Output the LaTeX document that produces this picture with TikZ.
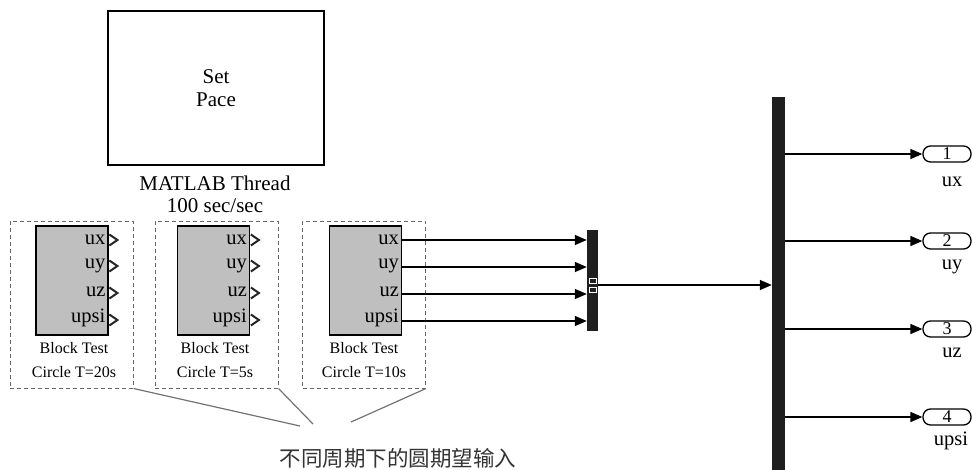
\documentclass[tikz,border=0pt]{standalone}
\usepackage{fontspec}
\setmainfont{Liberation Serif}
\newfontfamily\cjk{Noto Sans CJK SC}
\usetikzlibrary{arrows.meta}
\begin{document}
\begin{tikzpicture}[x=1pt,y=-1pt,
  lbl/.style={font=\fontsize{20.5}{22}\selectfont, inner sep=0pt},
  blkcap/.style={font=\fontsize{16}{24}\selectfont, align=center, inner sep=0pt},
  blk/.style={draw, line width=1.2pt, fill=black!25, minimum width=72pt, minimum height=109pt, inner sep=0pt},
  grp/.style={draw=black!60, line width=1pt, dash pattern=on 4pt off 3pt, minimum width=123pt, minimum height=167pt, inner sep=0pt},
  sig/.style={line width=1.5pt, -{Triangle[length=12pt,width=10pt]}},
  chev/.style={line width=2pt, line join=miter, black!85},
  bar/.style={fill=black!88, draw=none, inner sep=0pt},
  outp/.style={draw, line width=1.3pt, rounded corners=7.5pt, minimum width=48pt, minimum height=16pt, inner sep=0pt, font=\fontsize{18}{18}\selectfont},
  ptr/.style={draw=black!55, line width=1.2pt}
]
\useasboundingbox (0,0) rectangle (972,469);

% Set Pace block
\node[draw, line width=1.2pt, minimum width=216pt, minimum height=154pt, inner sep=0pt,
      align=center, font=\fontsize{21}{23}\selectfont] (pace) at (216,88) {Set\\Pace};
\node[align=center, inner sep=0pt, font=\fontsize{21}{22}\selectfont] (thread) at (215,194) {MATLAB Thread\\100 sec/sec};

% groups
\node[grp] (g1) at (71.5,304.5) {};
\node[grp] (g2) at (216.5,304.5) {};
\node[grp] (g3) at (364,304.5) {};

% blocks
\node[blk] (b1) at (72,280.5) {};
\node[blk] (b2) at (213.5,280.5) {};
\node[blk] (b3) at (365.5,280.5) {};

\foreach \b in {b1,b2,b3}{
  \node[lbl, anchor=east] at ([xshift=-3pt]\b.east |- 0,240) {ux};
  \node[lbl, anchor=east] at ([xshift=-3pt]\b.east |- 0,266) {uy};
  \node[lbl, anchor=east] at ([xshift=-3pt]\b.east |- 0,292) {uz};
  \node[lbl, anchor=east] at ([xshift=-3pt]\b.east |- 0,318) {upsi};
}
\foreach \b in {b1,b2}{
  \foreach \y in {240,266,293,320}{
    \draw[chev] ([xshift=0.8pt]\b.east |- 0,\y) ++(0,-5.5) -- ++(8,5.5) -- ++(-8,5.5);
  }
}

\node[blkcap] (c1) at (74,360) {Block Test\\Circle T=20s};
\node[blkcap] (c2) at (215,360) {Block Test\\Circle T=5s};
\node[blkcap] (c3) at (364,360) {Block Test\\Circle T=10s};

% mux
\node[bar, minimum width=11pt, minimum height=101pt] (mux) at (592.5,280.5) {};
\draw[white, line width=1pt] (589,278) rectangle (596,283.5);
\draw[white, line width=1pt] (589,287) rectangle (596,292.5);

\coordinate (p1) at (b3.east |- 0,240);
\coordinate (p2) at (b3.east |- 0,267);
\coordinate (p3) at (b3.east |- 0,294);
\coordinate (p4) at (b3.east |- 0,321);
\foreach \p in {p1,p2,p3,p4}{
  \draw[sig] (\p) -- (\p -| mux.west);
}

% demux
\node[bar, minimum width=13pt, minimum height=374pt] (demux) at (778.5,284) {};
\coordinate (mo) at (mux.east |- 0,285);
\draw[sig] (mo) -- (mo -| demux.west);

% outputs
\node[outp] (o1) at (947,154) {1};
\node[outp] (o2) at (947,241) {2};
\node[outp] (o3) at (947,329) {3};
\node[outp] (o4) at (947,417) {4};
\node[lbl] (l1) at (952,182) {ux};
\node[lbl] (l2) at (952,267) {uy};
\node[lbl] (l3) at (952,353) {uz};
\node[lbl] (l4) at (951,441) {upsi};
\foreach \o in {o1,o2,o3,o4}{
  \draw[sig] (\o -| demux.east) -- (\o.west);
}

% annotation
\coordinate (e1) at (300,426);
\coordinate (e2) at (313,424);
\coordinate (e3) at (351,422);
\draw[ptr] (g1.south east) -- (e1);
\draw[ptr] (g2.south east) -- (e2);
\draw[ptr] (g3.south east) -- (e3);
\node[inner sep=0pt, font=\cjk\fontsize{21.5}{22}\selectfont, text=black!80] (note) at (398,458) {不同周期下的圆期望输入};
\end{tikzpicture}
\end{document}
